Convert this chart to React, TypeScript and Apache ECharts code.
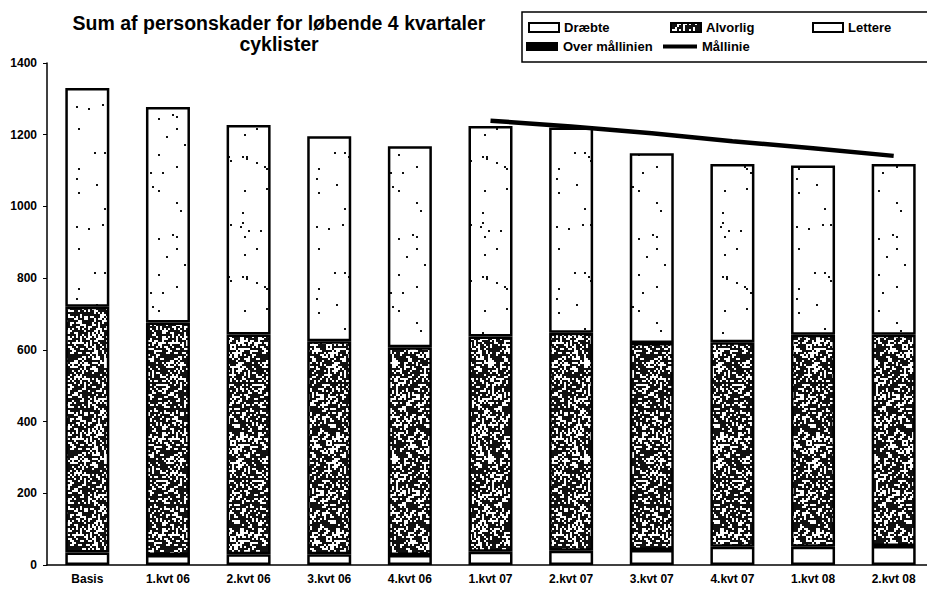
import React, { useEffect, useRef } from "react";
import * as echarts from "echarts";

const categories = ["Basis", "1.kvt 06", "2.kvt 06", "3.kvt 06", "4.kvt 06", "1.kvt 07", "2.kvt 07", "3.kvt 07", "4.kvt 07", "1.kvt 08", "2.kvt 08"];
const draebte = [35, 28, 30, 30, 28, 37, 40, 42, 51, 51, 53];
const alvorlig = [685, 648, 613, 594, 579, 600, 608, 577, 570, 591, 589];
const lettere = [610, 601, 584, 572, 561, 587, 572, 529, 497, 472, 476];
const overMaal: (number | null)[] = [null, null, null, null, null, null, null, null, null, null, null];
const maallinie: (number | null)[] = [null, null, null, null, null, 1239, 1223, 1204, 1182, 1162, 1141];
const yTicks = { min: 0, max: 1400, interval: 200 };

function makeSpeckle(size: number, density: number, seed: number, cell: number): HTMLCanvasElement {
  const c = document.createElement("canvas");
  c.width = size;
  c.height = size;
  const ctx = c.getContext("2d")!;
  ctx.fillStyle = "#fff";
  ctx.fillRect(0, 0, size, size);
  ctx.fillStyle = "#111";
  let s = seed;
  for (let y = 0; y < size; y += cell) {
    for (let x = 0; x < size; x += cell) {
      s = (s * 1103515245 + 12345) & 0x7fffffff;
      if (s / 0x7fffffff < density) ctx.fillRect(x, y, cell, cell);
    }
  }
  return c;
}

const FONT = "'Liberation Sans', Arial, sans-serif";

export default function App() {
  const ref = useRef<HTMLDivElement>(null);
  useEffect(() => {
    document.body.style.margin = "0";
    document.body.style.overflow = "hidden";
    if (!ref.current) return;
    const chart = echarts.init(ref.current, undefined, { renderer: "svg" });
    const dark = { image: makeSpeckle(96, 0.64, 7, 2), repeat: "repeat" as const };
    const light = { image: makeSpeckle(120, 0.012, 13, 2), repeat: "repeat" as const };
    const border = { borderColor: "#000", borderWidth: 2.5 };
    const legendText = { fontFamily: FONT, fontSize: 13, fontWeight: "bold" as const, color: "#000" };
    const mkLegend = (name: string, left: number, top: number, w: number, h = 9) => ({
      data: [name],
      left,
      top,
      icon: "rect",
      itemWidth: w,
      itemHeight: h,
      padding: 0,
      textStyle: legendText,
      selectedMode: false,
    });
    chart.setOption({
      animation: false,
      title: {
        text: "Sum af personskader for løbende 4 kvartaler\ncyklister",
        left: 274,
        top: 7,
        textAlign: "center",
        textStyle: { fontFamily: FONT, fontSize: 19.5, fontWeight: "bold", color: "#000", lineHeight: 21 },
      },
      legend: [
        mkLegend("Dræbte", 528, 21, 30),
        mkLegend("Alvorlig", 670, 21, 30),
        mkLegend("Lettere", 812, 21, 30),
        mkLegend("Over mållinien", 526, 40, 32),
        mkLegend("Mållinie", 663, 40, 34, 4),
      ],
      graphic: [
        {
          type: "rect",
          shape: { x: 522, y: 12, width: 430, height: 50 },
          style: { fill: "none", stroke: "#000", lineWidth: 1.5 },
          silent: true,
        },
      ],
      grid: { left: 47, top: 63, width: 887, height: 502 },
      xAxis: {
        type: "category",
        data: categories,
        axisLine: { lineStyle: { color: "#000", width: 1.5 } },
        axisTick: { length: 4, lineStyle: { color: "#000" } },
        axisLabel: { fontFamily: FONT, fontSize: 12, fontWeight: "bold", color: "#000", margin: 8 },
      },
      yAxis: {
        type: "value",
        min: yTicks.min,
        max: yTicks.max,
        interval: yTicks.interval,
        axisLine: { show: true, lineStyle: { color: "#000", width: 1.5 } },
        axisTick: { show: true, length: 4, lineStyle: { color: "#000" } },
        splitLine: { show: false },
        axisLabel: {
          fontFamily: FONT,
          fontSize: 12,
          fontWeight: "bold",
          color: "#000",
          margin: 10,
          formatter: (v: number) => String(v),
        },
      },
      series: [
        { name: "Dræbte", type: "bar", stack: "a", data: draebte, barWidth: 44, itemStyle: { color: "#fff", ...border } },
        { name: "Alvorlig", type: "bar", stack: "a", data: alvorlig, barWidth: 44, itemStyle: { color: dark, ...border } },
        { name: "Lettere", type: "bar", stack: "a", data: lettere, barWidth: 44, itemStyle: { color: light, ...border } },
        { name: "Over mållinien", type: "bar", stack: "a", data: overMaal, barWidth: 44, itemStyle: { color: "#000", borderWidth: 0 } },
        {
          name: "Mållinie",
          type: "line",
          data: maallinie,
          symbol: "none",
          lineStyle: { color: "#000", width: 4.5 },
          itemStyle: { color: "#000" },
          z: 5,
        },
      ],
    });
    return () => chart.dispose();
  }, []);
  return <div ref={ref} style={{ width: 940, height: 591 }} />;
}
